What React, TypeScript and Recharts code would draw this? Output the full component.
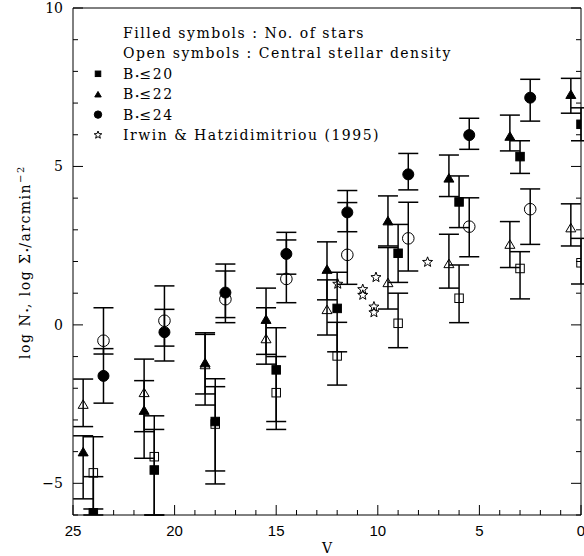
import { ScatterChart, Scatter, XAxis, YAxis, ErrorBar, Customized } from "recharts";

// V magnitude of each bin: B*<=22 points sit half a mag fainter, B*<=24 half a mag brighter
const vB20 = [24, 21, 18, 15, 12, 9, 6, 3, 0];
const vB22 = [24.5, 21.5, 18.5, 15.5, 12.5, 9.5, 6.5, 3.5, 0.5];
const vB24 = [23.5, 20.5, 17.5, 14.5, 11.5, 8.5, 5.5, 2.5];

// log N* (filled symbols) with upper / lower error ends (bars running off the frame stop at -6)
const nB20 = [-5.93, -4.58, -3.05, -1.42, 0.52, 2.26, 3.88, 5.31, 6.33];
const nB20Hi = [-4.79, -3.3, -1.95, -0.09, 1.66, 3.17, 4.7, 5.81, 6.85];
const nB20Lo = [-6.0, -6.0, -5.02, -3.3, -0.85, 1.34, 3.07, 4.78, 5.81];

const nB22 = [-4.0, -2.69, -1.19, 0.18, 1.76, 3.29, 4.64, 5.96, 7.28];
const nB22Hi = [-3.5, -1.76, -0.25, 1.16, 2.62, 4.07, 5.36, 6.62, 7.78];
const nB22Lo = [-5.49, -4.21, -2.53, -0.93, 0.79, 2.49, 4.05, 5.49, 6.68];

const nB24 = [-1.61, -0.23, 1.02, 2.24, 3.55, 4.75, 5.99, 7.17];
const nB24Hi = [-0.75, 0.49, 1.92, 2.92, 4.24, 5.41, 6.52, 7.75];
const nB24Lo = [-2.47, -0.67, 0.23, 1.6, 2.94, 4.26, 5.54, 6.43];

// log Sigma* central stellar density (open symbols)
const sB20 = [-4.67, -4.16, -3.13, -2.14, -0.98, 0.05, 0.84, 1.78, 1.96];
const sB20Hi = [-3.53, -2.87, -1.7, -1.0, 0.08, 1.0, 1.89, 2.31, 2.73];
const sB20Lo = [-5.81, -6.0, -4.61, -3.05, -1.9, -0.72, 0.07, 0.82, 1.29];

const sB22 = [-2.5, -2.13, -1.25, -0.43, 0.49, 1.34, 1.94, 2.55, 3.07];
const sB22Hi = [-1.71, -1.08, -0.3, 0.54, 1.42, 2.44, 2.86, 3.26, 3.82];
const sB22Lo = [-3.21, -3.37, -2.18, -1.24, -0.32, 0.5, 1.16, 1.81, 2.49];

const sB24 = [-0.5, 0.13, 0.81, 1.45, 2.21, 2.73, 3.1, 3.65];
const sB24Hi = [0.54, 1.23, 1.7, 2.68, 3.86, 3.87, 4.01, 4.29];
const sB24Lo = [-0.92, -1.14, 0.07, 0.7, 1.28, 1.7, 2.15, 2.54];

// Irwin & Hatzidimitriou (1995)
const ihV = [11.97, 10.74, 10.74, 10.09, 10.19, 10.19, 7.55];
const ihLogN = [1.29, 1.12, 0.94, 1.5, 0.57, 0.39, 1.98];

const vLabels = [0, 5, 10, 15, 20, 25];
const yLabels = [-5, 0, 5, 10];
const vTicks = Array.from({ length: 26 }, (_, i) => i);
const yTicks = Array.from({ length: 17 }, (_, i) => i - 6);

const legendTitles = ["Filled symbols : No. of stars", "Open symbols : Central stellar density"];
const legendLimits = ["\u226420", "\u226422", "\u226424"];
const legendRef = "Irwin & Hatzidimitriou (1995)";

const withErrors = (vs: number[], ys: number[], hi: number[], lo: number[]) =>
  vs.map((v, i) => ({ v, y: ys[i], err: [ys[i] - lo[i], hi[i] - ys[i]] }));

const filled20 = withErrors(vB20, nB20, nB20Hi, nB20Lo);
const filled22 = withErrors(vB22, nB22, nB22Hi, nB22Lo);
const filled24 = withErrors(vB24, nB24, nB24Hi, nB24Lo);
const open20 = withErrors(vB20, sB20, sB20Hi, sB20Lo);
const open22 = withErrors(vB22, sB22, sB22Hi, sB22Lo);
const open24 = withErrors(vB24, sB24, sB24Hi, sB24Lo);
const irwin = ihV.map((v, i) => ({ v, y: ihLogN[i] }));

const INK = "#000";
const SERIF = "DejaVu Serif";

// marker drawing, shared by the plot and the legend
const square = (cx: number, cy: number, s: number, fill: boolean) => (
  <rect x={cx - s / 2} y={cy - s / 2} width={s} height={s}
    fill={fill ? INK : "none"} stroke={INK} strokeWidth={1} />
);
const triangle = (cx: number, cy: number, w: number, h: number, fill: boolean) => (
  <polygon
    points={`${cx},${cy - h / 2} ${cx + w / 2},${cy + h / 2} ${cx - w / 2},${cy + h / 2}`}
    fill={fill ? INK : "none"} stroke={INK} strokeWidth={1} />
);
const circle = (cx: number, cy: number, r: number, fill: boolean) => (
  <circle cx={cx} cy={cy} r={r} fill={fill ? INK : "none"} stroke={INK} strokeWidth={1} />
);
const star = (cx: number, cy: number, r: number) => {
  const pts = [];
  for (let k = 0; k < 10; k++) {
    const a = -Math.PI / 2 + (k * Math.PI) / 5;
    const rr = k % 2 === 0 ? r : r * 0.42;
    pts.push(`${(cx + rr * Math.cos(a)).toFixed(2)},${(cy + rr * Math.sin(a)).toFixed(2)}`);
  }
  return <polygon points={pts.join(" ")} fill="none" stroke={INK} strokeWidth={1} />;
};

const FilledSquare = (p: any) => square(p.cx, p.cy, 8.5, true);
const OpenSquare = (p: any) => square(p.cx, p.cy, 8.5, false);
const FilledTriangle = (p: any) => triangle(p.cx, p.cy, 10, 8.5, true);
const OpenTriangle = (p: any) => triangle(p.cx, p.cy, 10, 8.5, false);
const FilledCircle = (p: any) => circle(p.cx, p.cy, 5.5, true);
const OpenCircle = (p: any) => circle(p.cx, p.cy, 5.8, false);
const StarMark = (p: any) => star(p.cx, p.cy, 5.3);

// inward ticks on all four sides, labels only on bottom and left
const BottomTick = ({ x, y, payload }: any) => {
  const major = payload.value % 5 === 0;
  return (
    <g>
      <line x1={x} y1={y} x2={x} y2={y - (major ? 10 : 5)} stroke={INK} />
      {vLabels.includes(payload.value) && (
        <text x={x} y={y + 21} textAnchor="middle" fontFamily="Liberation Sans" fontSize={15} fill={INK}>
          {payload.value}
        </text>
      )}
    </g>
  );
};
const TopTick = ({ x, y, payload }: any) => (
  <line x1={x} y1={y} x2={x} y2={y + (payload.value % 5 === 0 ? 10 : 5)} stroke={INK} />
);
const LeftTick = ({ x, y, payload }: any) => {
  const major = payload.value % 5 === 0;
  return (
    <g>
      <line x1={x} y1={y} x2={x + (major ? 10 : 5)} y2={y} stroke={INK} />
      {yLabels.includes(payload.value) && (
        <text x={x - 10} y={y + 5} textAnchor="end" fontFamily={SERIF} fontSize={14} fill={INK}>
          {payload.value < 0 ? `\u2212${-payload.value}` : payload.value}
        </text>
      )}
    </g>
  );
};
const RightTick = ({ x, y, payload }: any) => (
  <line x1={x} y1={y} x2={x - (payload.value % 5 === 0 ? 10 : 5)} y2={y} stroke={INK} />
);

const Annotations = () => {
  const tx = 123;
  const mx = 98;
  const row = (i: number) => 33 + i * 20.4;
  const textProps = { fontFamily: SERIF, fontSize: 14, letterSpacing: 1.5, fill: INK };
  const markers = [
    square(mx, row(2), 5.5, true),
    triangle(mx, row(3), 6.5, 5.5, true),
    circle(mx, row(4), 3.7, true),
  ];
  return (
    <g>
      {legendTitles.map((t, i) => (
        <text key={t} x={tx} y={row(i) + 5} {...textProps}>{t}</text>
      ))}
      {legendLimits.map((lim, i) => (
        <g key={lim}>
          {markers[i]}
          <text x={tx} y={row(i + 2) + 5} {...textProps}>
            B<tspan fontSize={8} letterSpacing={0}>{"\u2022"}</tspan>{lim}
          </text>
        </g>
      ))}
      {star(mx, row(5), 4)}
      <text x={tx} y={row(5) + 5} {...textProps}>{legendRef}</text>

      <text x={327} y={553} textAnchor="middle" fontFamily={SERIF} fontSize={14} fill={INK}>V</text>
      <text x={30} y={262} transform="rotate(-90 30 262)" textAnchor="middle" {...textProps}>
        log N<tspan fontSize={8} letterSpacing={0}>{"\u2022"}</tspan>, log {"\u03a3"}
        <tspan fontSize={8} letterSpacing={0}>{"\u2022"}</tspan>/arcmin
        <tspan fontSize={10} dy={-6}>{"\u22122"}</tspan>
      </text>
    </g>
  );
};

export default function App() {
  return (
    <div style={{ position: "absolute", left: 0, top: 0, width: 584, height: 556, background: "#fff" }}>
      <ScatterChart width={584} height={556} margin={{ top: 7, right: 2, bottom: 0, left: 0 }}>
        <XAxis type="number" dataKey="v" domain={[0, 25]} reversed allowDataOverflow ticks={vTicks} interval={0}
          tickSize={0} tickMargin={0} tickLine={false} height={41} stroke={INK} tick={<BottomTick />} />
        <XAxis xAxisId="top" orientation="top" type="number" domain={[0, 25]} reversed allowDataOverflow
          ticks={vTicks} interval={0} tickSize={0} tickMargin={0} tickLine={false} height={1}
          stroke={INK} tick={<TopTick />} />
        <YAxis type="number" dataKey="y" domain={[-6, 10]} allowDataOverflow ticks={yTicks} interval={0}
          tickSize={0} tickMargin={0} tickLine={false} width={73} stroke={INK} tick={<LeftTick />} />
        <YAxis yAxisId="right" orientation="right" type="number" domain={[-6, 10]} allowDataOverflow
          ticks={yTicks} interval={0} tickSize={0} tickMargin={0} tickLine={false} width={1}
          stroke={INK} tick={<RightTick />} />

        <Scatter data={open20} shape={OpenSquare} isAnimationActive={false}>
          <ErrorBar dataKey="err" direction="y" width={10} stroke={INK} isAnimationActive={false} />
        </Scatter>
        <Scatter data={open22} shape={OpenTriangle} isAnimationActive={false}>
          <ErrorBar dataKey="err" direction="y" width={10} stroke={INK} isAnimationActive={false} />
        </Scatter>
        <Scatter data={open24} shape={OpenCircle} isAnimationActive={false}>
          <ErrorBar dataKey="err" direction="y" width={10} stroke={INK} isAnimationActive={false} />
        </Scatter>
        <Scatter data={filled20} shape={FilledSquare} isAnimationActive={false}>
          <ErrorBar dataKey="err" direction="y" width={10} stroke={INK} isAnimationActive={false} />
        </Scatter>
        <Scatter data={filled22} shape={FilledTriangle} isAnimationActive={false}>
          <ErrorBar dataKey="err" direction="y" width={10} stroke={INK} isAnimationActive={false} />
        </Scatter>
        <Scatter data={filled24} shape={FilledCircle} isAnimationActive={false}>
          <ErrorBar dataKey="err" direction="y" width={10} stroke={INK} isAnimationActive={false} />
        </Scatter>
        <Scatter data={irwin} shape={StarMark} isAnimationActive={false} />

        <Customized component={Annotations} />
      </ScatterChart>
    </div>
  );
}
